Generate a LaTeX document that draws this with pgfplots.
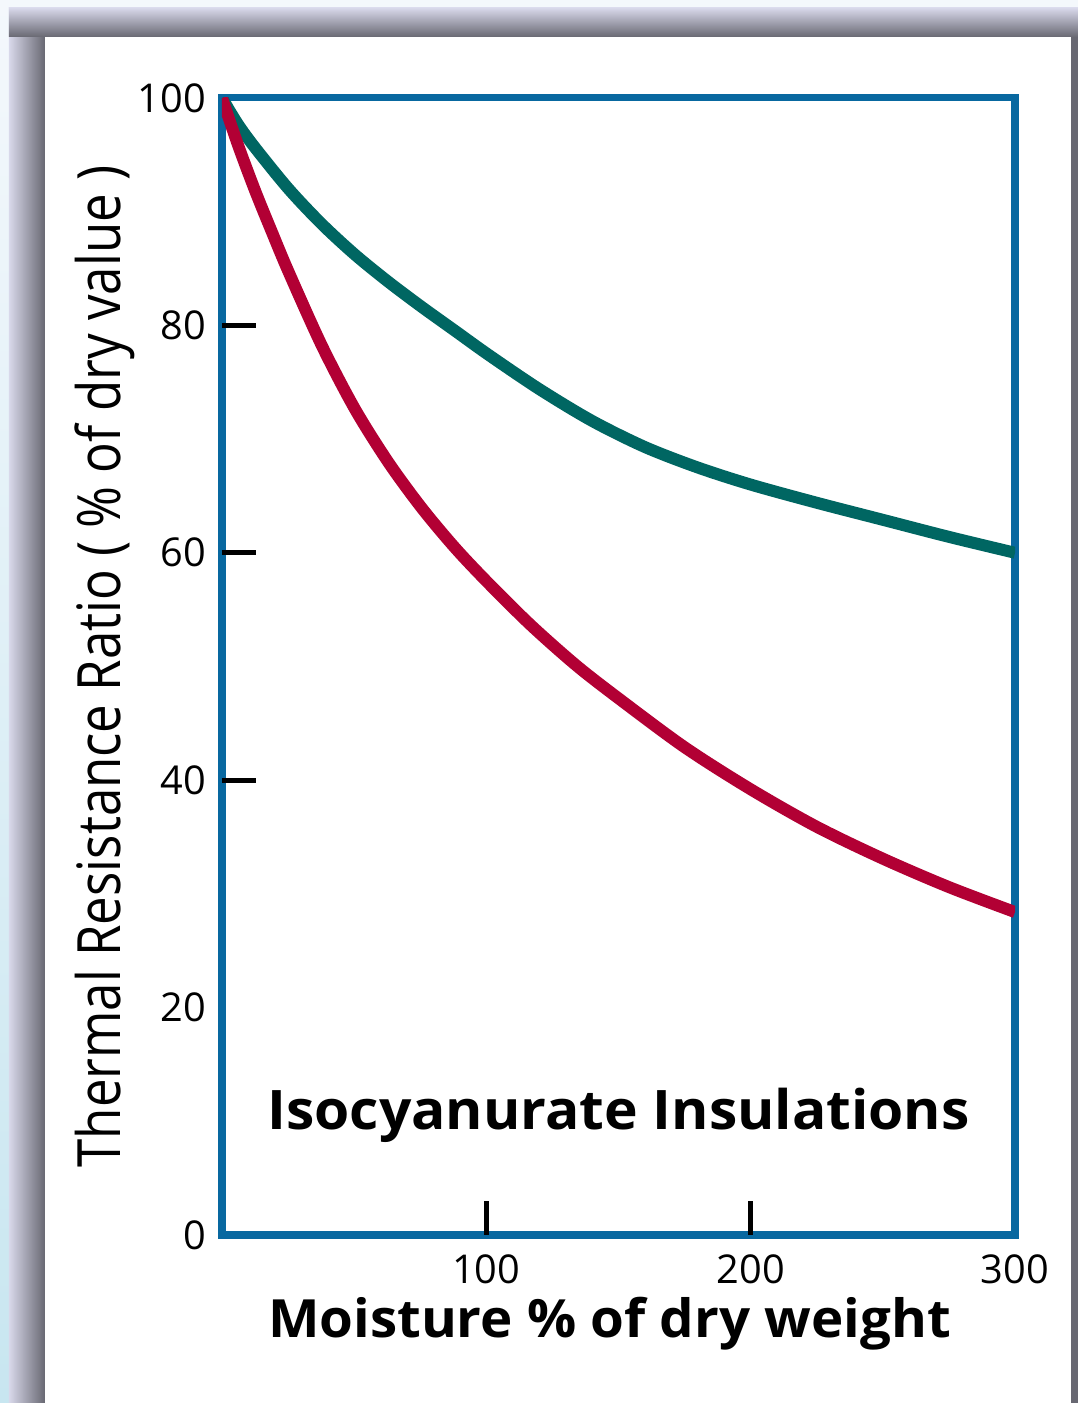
\documentclass[border=0pt]{standalone}
\usepackage{pgfplots}
\pgfplotsset{compat=1.18}
\usepackage{fontspec}
\setmainfont{Open Sans}

\definecolor{tealc}{RGB}{0,102,98}
\definecolor{redc}{RGB}{178,0,52}
\definecolor{axisblue}{RGB}{8,104,160}
\definecolor{framegray}{RGB}{104,104,114}
\definecolor{framelight}{RGB}{216,216,234}
\definecolor{bgblue}{RGB}{200,230,240}
\definecolor{bgtop}{RGB}{244,248,252}

\begin{document}
\begin{tikzpicture}
\useasboundingbox (0,0) rectangle (10.78,14.03);
% backdrop and frame
\shade[bottom color=bgblue, top color=bgtop] (0,0) rectangle (10.78,14.03);
\shade[left color=framelight, right color=framegray] (0.09,0) rectangle (0.45,13.95);
\shade[top color=framelight, bottom color=framegray] (0.09,13.66) rectangle (10.78,13.95);
\fill[framegray] (10.71,0) rectangle (10.78,13.66);
\fill[white] (0.45,0) rectangle (10.71,13.66);

\begin{axis}[
    at={(2.22cm,1.68cm)}, anchor=south west,
    scale only axis,
    width=7.93cm, height=11.37cm,
    xmin=0, xmax=300, ymin=0, ymax=100,
    axis line style={axisblue, line width=2pt},
    xtick={100,200,300},
    ytick={0,20,40,60,80,100},
    major tick length=0pt,
    tick pos=left,
    extra x ticks={100,200},
    extra y ticks={40,60,80},
    extra x tick labels={},
    extra y tick labels={},
    extra tick style={major tick length=0.34cm, tick align=inside,
        major tick style={black, line width=1.5pt}},
    tick label style={font=\fontsize{11.3}{13}\selectfont, black},
    /pgf/number format/assume math mode=true,
    xticklabel style={yshift=-2pt},
    yticklabel style={xshift=-1pt},
    xlabel={\scalebox{1.037}[1]{\fontsize{15}{17}\selectfont\bfseries Moisture \% of dry weight}},
    xlabel style={at={(axis description cs:0.5,0)}, anchor=base, yshift=-1.03cm, xshift=-0.09cm},
    ylabel={\scalebox{0.853}[1]{\fontsize{17}{20}\selectfont Thermal Resistance Ratio ( \% of dry value )}},
    ylabel style={at={(axis description cs:-0.1475,0.5)}, anchor=center},
]
% upper (teal) curve
\addplot[tealc, line width=3.4pt, smooth] coordinates {
    (0,100) (6,97.7) (12.6,95.6) (25.2,92.0) (37.8,88.9) (50.4,86.2)
    (63.1,83.8) (75.7,81.6) (88.3,79.5) (100.9,77.4) (120,74.4)
    (140,71.6) (160,69.3) (180,67.5) (200,66.0) (225,64.4) (250,62.9)
    (275,61.4) (300,60.0)
};
% lower (red) curve
\addplot[redc, line width=3.4pt, smooth] coordinates {
    (0,100) (6,95.9) (12.6,91.8) (18.9,88.2) (25.2,84.7) (37.8,78.2)
    (50.4,72.6) (63.1,67.9) (75.7,63.9) (88.3,60.4) (100.9,57.3)
    (117,53.6) (134,50.1) (150,47.2) (175,42.9) (200,39.2) (225,35.9)
    (250,33.1) (275,30.6) (300,28.4)
};
\node[anchor=base] at (axis cs:150,9.3)
    {\scalebox{1.045}[1]{\fontsize{15.5}{17}\selectfont\bfseries Isocyanurate Insulations}};
\end{axis}
\end{tikzpicture}
\end{document}
